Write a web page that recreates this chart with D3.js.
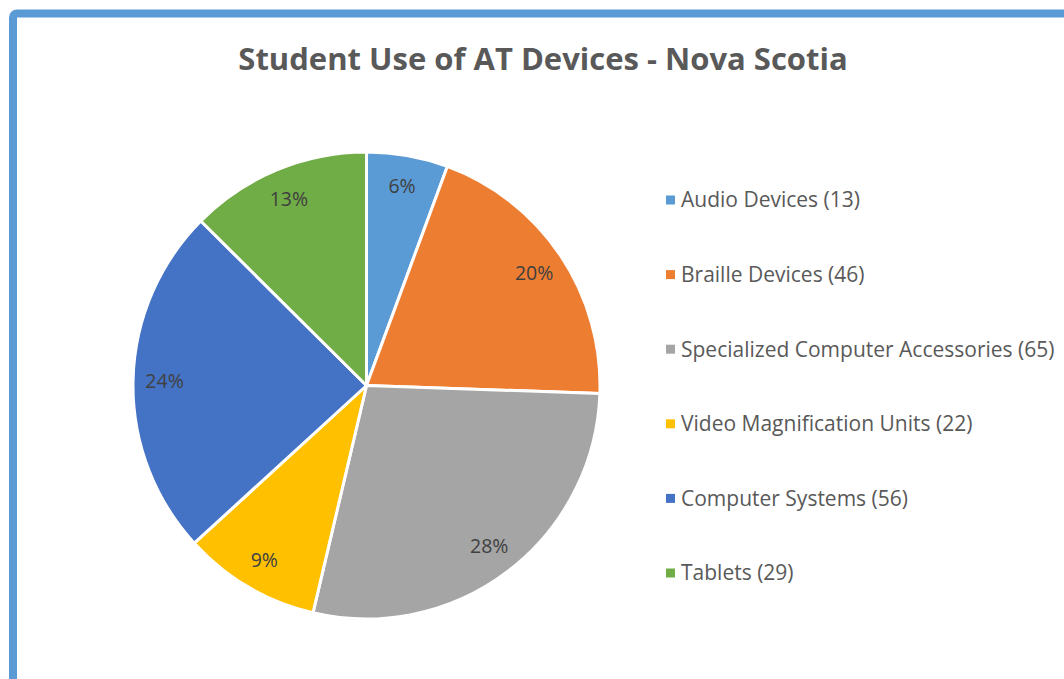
<!DOCTYPE html>
<html>
<head>
<meta charset="utf-8">
<script src="https://cdn.jsdelivr.net/npm/d3@7"></script>
<style>
  body { margin: 0; background: #fff; }
  text { font-family: "Open Sans", Lato, sans-serif; }
</style>
</head>
<body>
<svg></svg>
<script>
const width = 1064
const height = 679

const categories = ['Audio Devices', 'Braille Devices', 'Specialized Computer Accessories',
    'Video Magnification Units', 'Computer Systems', 'Tablets']
const counts = [13, 46, 65, 22, 56, 29]
// percentage labels as printed on the chart
const pctLabels = ['6%', '20%', '28%', '9%', '24%', '13%']
const colors = ['#5B9BD5', '#ED7D31', '#A5A5A5', '#FFC000', '#4472C4', '#70AD47']

const svg = d3.select('svg')
    .attr('width', width)
    .attr('height', height)

// chart frame (runs off the right and bottom)
svg.append('rect')
    .attr('x', 13).attr('y', 13.5)
    .attr('width', width + 20).attr('height', height + 20)
    .attr('rx', 4)
    .attr('fill', 'none')
    .attr('stroke', '#5B9BD5')
    .attr('stroke-width', 8)

svg.append('text')
    .attr('x', 543).attr('y', 70)
    .attr('text-anchor', 'middle')
    .attr('font-size', 31)
    .attr('font-weight', 'bold')
    .attr('fill', '#595959')
    .text('Student Use of AT Devices - Nova Scotia')

const cx = 366.5, cy = 385.5, R = 233.5
const data = categories.map((c, i) => ({ name: c, value: counts[i], color: colors[i], pct: pctLabels[i] }))

const pie = d3.pie().sort(null).value(d => d.value)
const arc = d3.arc().innerRadius(0).outerRadius(R)
const labelArc = d3.arc().innerRadius(R * 0.865).outerRadius(R * 0.865)

const g = svg.append('g').attr('transform', `translate(${cx},${cy})`)
const arcs = pie(data)

g.selectAll('path')
    .data(arcs)
    .enter()
    .append('path')
    .attr('d', arc)
    .attr('fill', d => d.data.color)
    .attr('stroke', '#fff')
    .attr('stroke-width', 3)
    .attr('stroke-linejoin', 'round')

g.selectAll('text.pct')
    .data(arcs)
    .enter()
    .append('text')
    .attr('class', 'pct')
    .attr('transform', d => `translate(${labelArc.centroid(d)})`)
    .attr('text-anchor', 'middle')
    .attr('dy', '0.35em')
    .attr('font-size', 19.5)
    .attr('fill', '#404040')
    .text(d => d.data.pct)

const legendY = d3.scalePoint()
    .domain(categories)
    .range([200, 573])

const legend = svg.append('g')
    .selectAll('g')
    .data(data)
    .enter()
    .append('g')
    .attr('transform', d => `translate(666,${legendY(d.name)})`)

legend.append('rect')
    .attr('x', 0).attr('y', -4.5)
    .attr('width', 9).attr('height', 9)
    .attr('fill', d => d.color)

legend.append('text')
    .attr('x', 15)
    .attr('dy', '0.35em')
    .attr('font-size', 21)
    .attr('fill', '#595959')
    .text(d => `${d.name} (${d.value})`)
</script>
</body>
</html>
